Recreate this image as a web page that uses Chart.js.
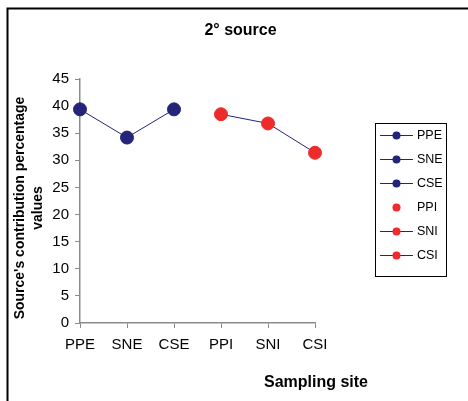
<!doctype html>
<html>

<head>
  <meta charset="UTF-8">
  <script src="https://cdn.jsdelivr.net/npm/chart.js"></script>
  <style>
    html, body { margin: 0; padding: 0; background: #fff; }
    #wrap { width: 468px; height: 401px; position: relative; }
  </style>
</head>

<body>
  <div id="wrap">
    <canvas id="sourceChart" width="468" height="401"></canvas>
  </div>
</body>

<script>
  // data
  const sites = ['PPE', 'SNE', 'CSE', 'PPI', 'SNI', 'CSI'];
  const valuesE = [39.4, 34.2, 39.4, null, null, null];
  const valuesI = [null, null, null, 38.5, 36.8, 31.4];
  const legendHasLine = [true, true, true, false, true, true];
  const yTicks = [0, 5, 10, 15, 20, 25, 30, 35, 40, 45];
  const yTitle = ["Source's contribution percentage", 'values'];

  const NAVY = '#242478';
  const RED = '#ee2b2b';
  const FONT = "'Liberation Sans', Arial, sans-serif";

  // title, axis titles, legend box and frame
  const extras = {
    id: 'extras',
    afterDraw(chart) {
      const c = chart.ctx;
      c.save();
      // frame (top + left only, like the cropped original)
      c.strokeStyle = '#000';
      c.lineWidth = 2;
      c.beginPath();
      c.moveTo(7.5, 401);
      c.lineTo(7.5, 8.5);
      c.lineTo(468, 8.5);
      c.stroke();

      c.fillStyle = '#000';
      c.textAlign = 'center';
      c.textBaseline = 'middle';
      c.font = 'bold 16px ' + FONT;
      c.fillText('2\u00b0 source', 240.5, 31);
      c.fillText('Sampling site', 316, 383);

      // y title, rotated
      c.save();
      c.translate(20, 208);
      c.rotate(-Math.PI / 2);
      c.font = 'bold 14px ' + FONT;
      yTitle.forEach((t, i) => c.fillText(t, 0, i * 18));
      c.restore();

      // legend
      c.lineWidth = 1;
      c.strokeStyle = '#000';
      c.strokeRect(375.5, 123.5, 71, 153);
      c.font = '12.5px ' + FONT;
      c.textAlign = 'left';
      sites.forEach((s, i) => {
        const y = 135 + i * 24;
        const col = i < 3 ? NAVY : RED;
        if (legendHasLine[i]) {
          c.strokeStyle = NAVY;
          c.beginPath();
          c.moveTo(380, y + 0.5);
          c.lineTo(413, y + 0.5);
          c.stroke();
        }
        c.fillStyle = col;
        c.beginPath();
        c.arc(396.5, y + 0.5, 4, 0, Math.PI * 2);
        c.fill();
        c.fillStyle = '#000';
        c.fillText(s, 417, y + 1);
      });
      c.restore();
    }
  };

  const ctx = document.getElementById('sourceChart').getContext('2d');
  const sourceChart = new Chart(ctx, {
    type: 'line',
    data: {
      labels: sites,
      datasets: [{
        label: 'E',
        data: valuesE,
        borderColor: NAVY,
        borderWidth: 1,
        pointBackgroundColor: NAVY,
        pointBorderColor: NAVY,
        pointRadius: 6.5,
        clip: false,
        spanGaps: false
      }, {
        label: 'I',
        data: valuesI,
        borderColor: NAVY,
        borderWidth: 1,
        pointBackgroundColor: RED,
        pointBorderColor: RED,
        pointRadius: 6.5,
        clip: false,
        spanGaps: false
      }]
    },
    options: {
      responsive: false,
      animation: false,
      layout: { padding: { left: 0, right: 153, top: 79, bottom: 0 } },
      plugins: {
        legend: { display: false },
        title: { display: false },
        tooltip: { enabled: false }
      },
      scales: {
        x: {
          offset: false,
          grid: { drawOnChartArea: false, tickLength: 5, color: '#8a8a8a' },
          border: { color: '#8a8a8a', width: 1.5 },
          ticks: { color: '#000', font: { family: FONT, size: 15 }, padding: 8, maxRotation: 0 },
          afterFit(scale) { scale.height = 78; }
        },
        y: {
          min: 0,
          max: 45,
          afterBuildTicks(scale) { scale.ticks = yTicks.map(v => ({ value: v })); },
          grid: { drawOnChartArea: false, tickLength: 5, color: '#8a8a8a' },
          border: { color: '#8a8a8a', width: 1.5 },
          ticks: { color: '#000', font: { family: FONT, size: 15 }, padding: 6 },
          afterFit(scale) { scale.width = 80; }
        }
      }
    },
    plugins: [extras]
  });
</script>

</html>
